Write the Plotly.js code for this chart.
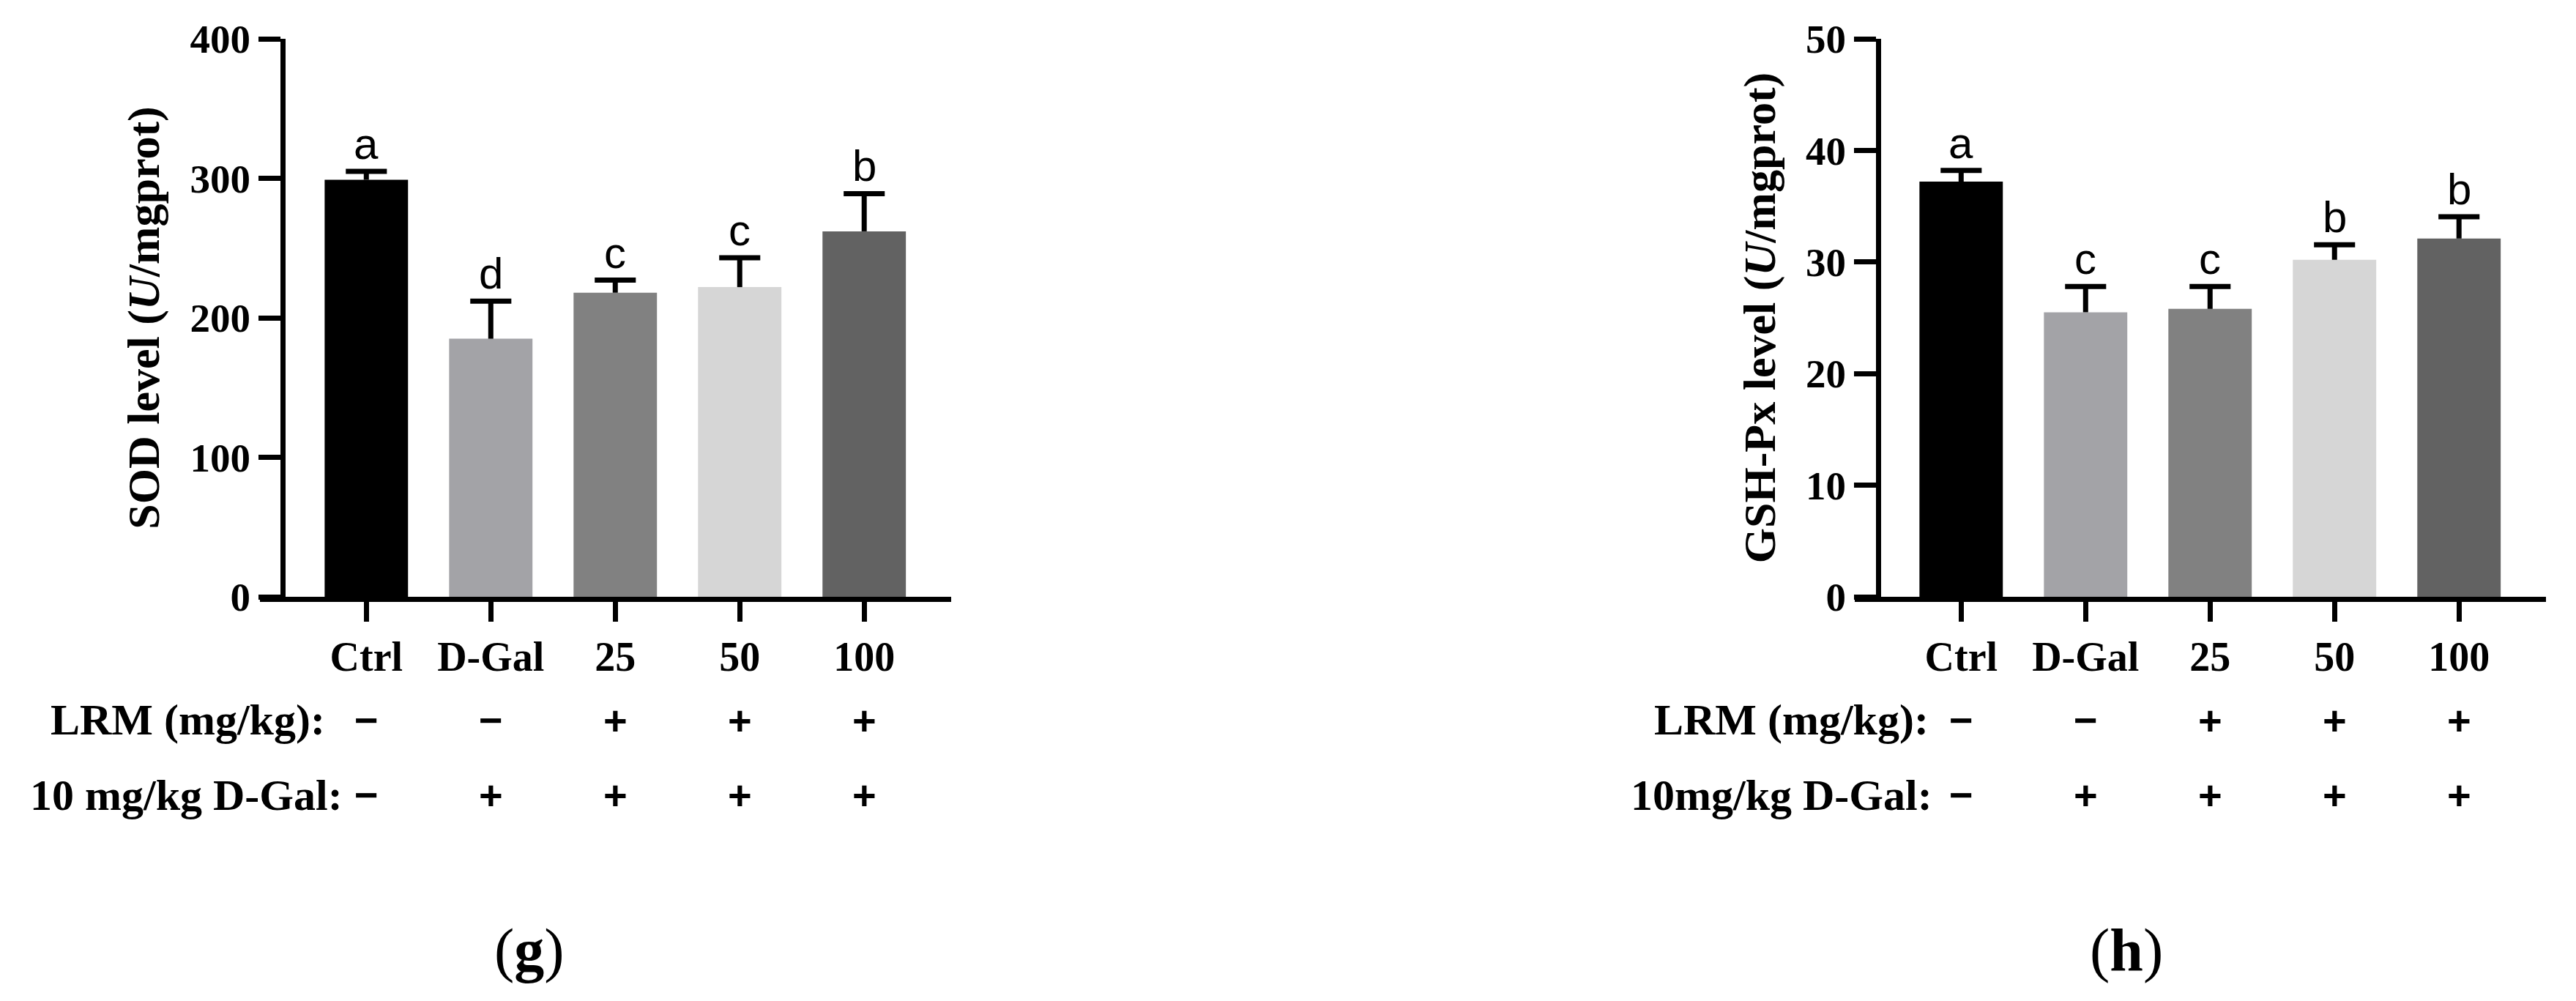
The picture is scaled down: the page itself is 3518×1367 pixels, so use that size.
<!DOCTYPE html>
<html>
<head>
<meta charset="utf-8">
<script src="https://cdn.plot.ly/plotly-3.0.1.min.js"></script>
<style>
  body { margin: 0; background: #fff; }
  #plot { width: 3518px; height: 1367px; }
</style>
</head>
<body>
<div id="plot"></div>
<script>
// groups on the x axis (same for both panels)
let groups = ['Ctrl', 'D-Gal', '25', '50', '100'];
let barColors = ['#000000', '#a3a3a7', '#818181', '#d6d6d6', '#626262'];

// (g) SOD level
let sodMeans = [299, 185, 218, 222, 262];
let sodErrors = [6, 27, 9, 21, 27];
let sodLetters = ['a', 'd', 'c', 'c', 'b'];

// (h) GSH-Px level
let gshMeans = [37.2, 25.5, 25.8, 30.2, 32.1];
let gshErrors = [1.0, 2.3, 2.0, 1.35, 1.95];
let gshLetters = ['a', 'c', 'c', 'b', 'b'];

// treatment rows under the bars
let lrmSigns = ['\u2212', '\u2212', '+', '+', '+'];
let dgalSigns = ['\u2212', '+', '+', '+', '+'];

// bar positions = group index, labels come from groups
let pos = groups.map((g, i) => i);

let serif = 'Liberation Serif, Times New Roman, serif';
let sans = 'Liberation Sans, Arial, sans-serif';

// one-sided (upper) error bars: stem + cap, built from the data arrays
function errorTrace(means, errors, xname, yname) {
    let xs = [];
    let ys = [];
    let capHalf = 0.165;
    pos.forEach(i => {
        let top = means[i] + errors[i];
        xs.push(i, i, null, i - capHalf, i + capHalf, null);
        ys.push(means[i], top, null, top, top, null);
    });
    return {
        x: xs, y: ys,
        type: 'scatter', mode: 'lines',
        line: {color: '#000', width: 7},
        xaxis: xname, yaxis: yname,
        hoverinfo: 'none'
    };
}

// 1. Trace data
let trace01 = {
    x: pos,
    y: sodMeans,
    type: 'bar',
    width: 0.67,
    marker: {color: barColors, line: {width: 0}},
    xaxis: 'x', yaxis: 'y',
    hoverinfo: 'none'
};

let trace02 = {
    x: pos,
    y: gshMeans,
    type: 'bar',
    width: 0.67,
    marker: {color: barColors, line: {width: 0}},
    xaxis: 'x2', yaxis: 'y2',
    hoverinfo: 'none'
};

// 2. Put the trace data into an array
let data = [
    trace01, errorTrace(sodMeans, sodErrors, 'x', 'y'),
    trace02, errorTrace(gshMeans, gshErrors, 'x2', 'y2')
];

// shared axis styles
function xAxis(domain, yname) {
    return {
        domain: domain,
        anchor: yname,
        range: [-0.855, 4.7],
        tickvals: pos,
        ticktext: groups,
        showline: true, linecolor: '#000', linewidth: 7,
        ticks: 'outside', ticklen: 27, tickwidth: 7, tickcolor: '#000',
        tickfont: {family: serif, size: 56, color: '#000', weight: 'bold'},
        showgrid: false, zeroline: false, fixedrange: true
    };
}

function yAxis(xpos, range, dtick, title) {
    return {
        domain: [0.4038, 0.9612],
        anchor: 'free',
        position: xpos,
        range: range,
        dtick: dtick,
        showline: true, linecolor: '#000', linewidth: 7,
        ticks: 'outside', ticklen: 30, tickwidth: 7, tickcolor: '#000',
        tickfont: {family: serif, size: 55, color: '#000', weight: 'bold'},
        showgrid: false, zeroline: false, fixedrange: true,
        title: {
            text: title, standoff: 20,
            font: {family: serif, size: 62, color: '#000', weight: 'bold'}
        }
    };
}

// letters over the bars and the +/- rows
let annotations = [];

function addPanelNotes(xname, yname, means, errors, letters) {
    pos.forEach(i => {
        annotations.push({
            xref: xname, yref: yname, x: i, y: means[i] + errors[i],
            text: letters[i], showarrow: false,
            xanchor: 'center', yanchor: 'bottom', yshift: 2,
            font: {family: sans, size: 60, color: '#000'}
        });
        annotations.push({
            xref: xname, yref: 'paper', x: i, y: 0.2809,
            text: lrmSigns[i], showarrow: false,
            xanchor: 'center', yanchor: 'middle',
            font: {family: sans, size: 56, color: '#000', weight: 'bold'}
        });
        annotations.push({
            xref: xname, yref: 'paper', x: i, y: 0.2056,
            text: dgalSigns[i], showarrow: false,
            xanchor: 'center', yanchor: 'middle',
            font: {family: sans, size: 56, color: '#000', weight: 'bold'}
        });
    });
}

addPanelNotes('x', 'y', sodMeans, sodErrors, sodLetters);
addPanelNotes('x2', 'y2', gshMeans, gshErrors, gshLetters);

let rowFont = {family: serif, size: 60, color: '#000', weight: 'bold'};
let rowLabels = [
    {x: 0.1268, y: 0.2809, text: 'LRM (mg/kg):'},
    {x: 0.1336, y: 0.2056, text: '10 mg/kg D-Gal:'},
    {x: 0.7493, y: 0.2809, text: 'LRM (mg/kg):'},
    {x: 0.7507, y: 0.2056, text: '10mg/kg D-Gal:'}
];
rowLabels.forEach(r => {
    annotations.push({
        xref: 'paper', yref: 'paper', x: r.x, y: r.y, text: r.text,
        showarrow: false, xanchor: 'right', yanchor: 'middle', font: rowFont
    });
});

// panel letters
let panelFont = {family: serif, size: 82, color: '#000'};
annotations.push({
    xref: 'paper', yref: 'paper', x: 0.2055, y: 0.0512, text: '(<b>g</b>)',
    showarrow: false, xanchor: 'center', yanchor: 'middle', font: panelFont
});
annotations.push({
    xref: 'paper', yref: 'paper', x: 0.8255, y: 0.0512, text: '(<b>h</b>)',
    showarrow: false, xanchor: 'center', yanchor: 'middle', font: panelFont
});

// 3. Add layout information
let layout = {
    width: 3518,
    height: 1367,
    margin: {l: 0, r: 0, t: 0, b: 0},
    paper_bgcolor: '#fff',
    plot_bgcolor: 'rgba(0,0,0,0)',
    showlegend: false,
    xaxis: xAxis([0.1009, 0.3693], 'y'),
    yaxis: yAxis(0.1097, [0, 400], 100, 'SOD level (<i>U</i>/mgprot)'),
    xaxis2: xAxis([0.7200, 0.9884], 'y2'),
    yaxis2: yAxis(0.7291, [0, 50], 10, 'GSH-Px level (<i>U</i>/mgprot)'),
    annotations: annotations
};

// 4. Call on Plotly.newPlot and plot to an id
Plotly.newPlot('plot', data, layout, {staticPlot: true});
</script>
</body>
</html>
